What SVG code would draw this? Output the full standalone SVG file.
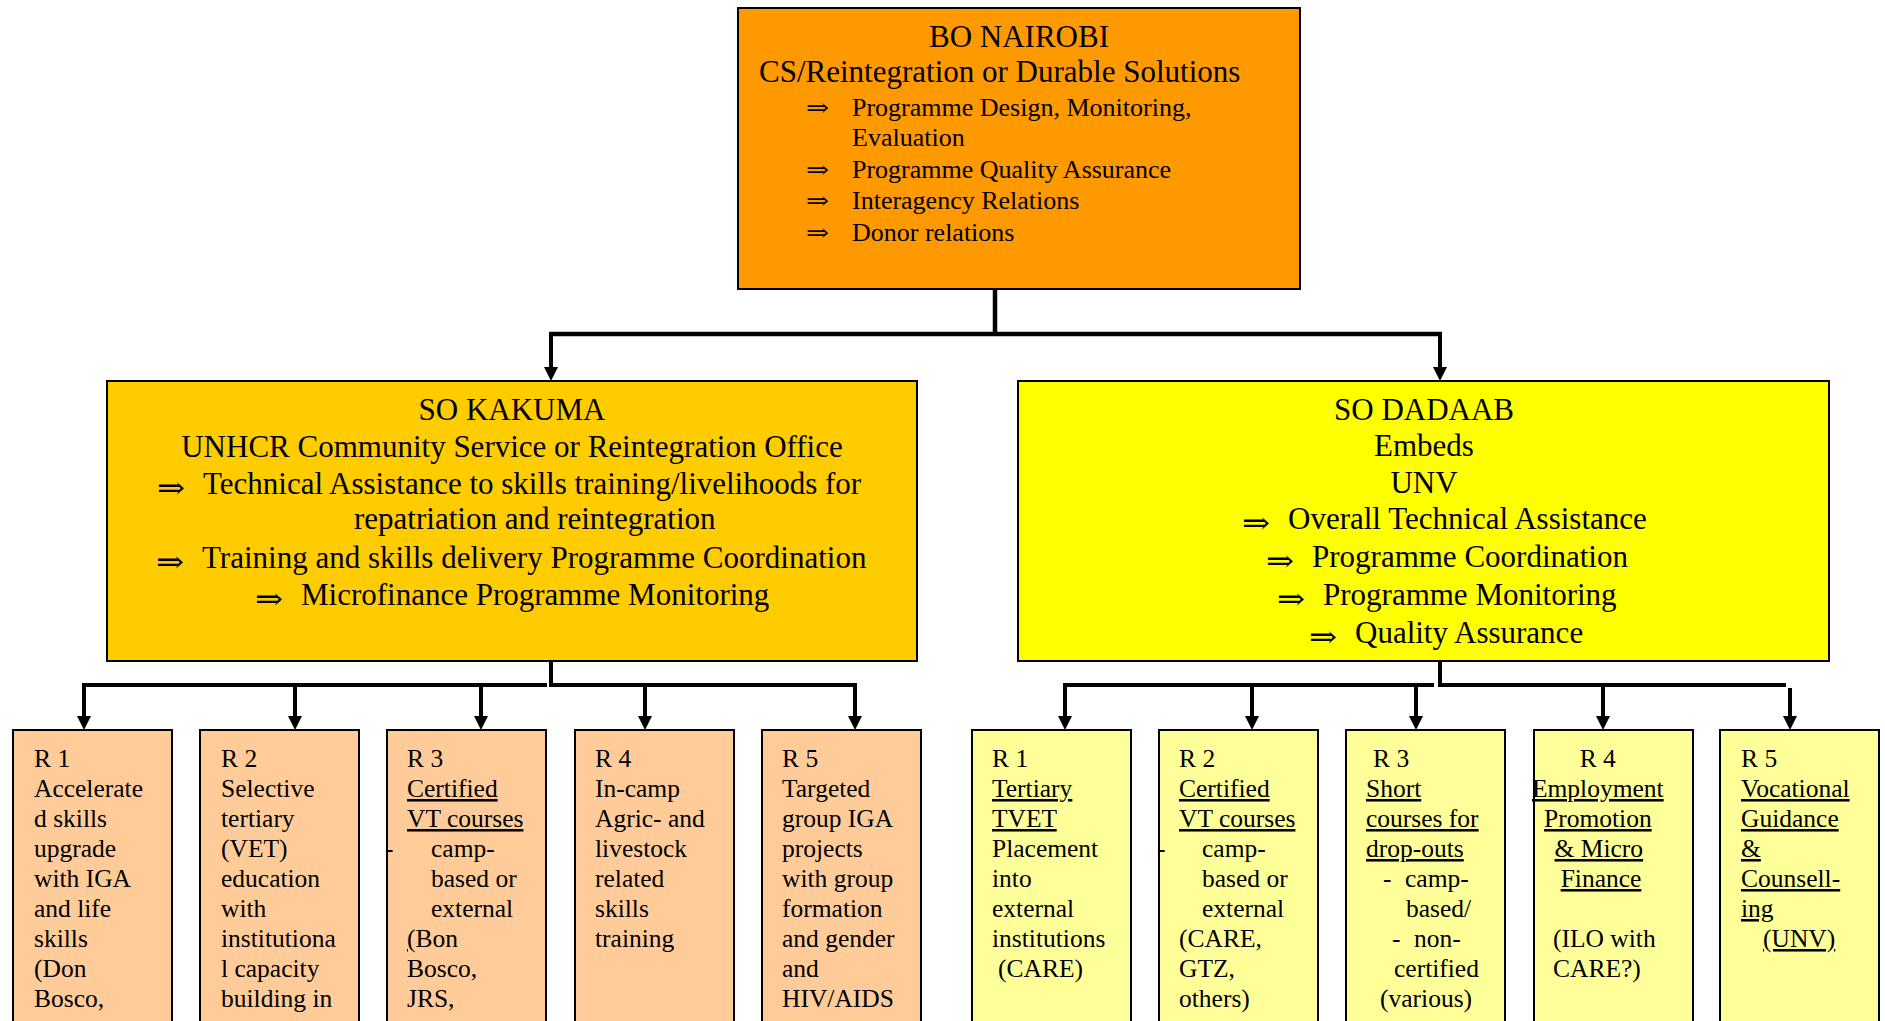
<svg xmlns="http://www.w3.org/2000/svg" width="1885" height="1021" viewBox="0 0 1885 1021">
<style>
.box{stroke:#000;stroke-width:2}
.t{font-family:"Liberation Serif","Times New Roman",serif;fill:#000}
.h{font-size:31px}
.b{font-size:26px}
.s{font-size:25.5px}
.arr{font-family:"DejaVu Serif","DejaVu Sans",serif;fill:#000}
.a1{font-size:24px}
.a2{font-size:30px}
.u{text-decoration:underline}
.c{fill:none;stroke:#000;stroke-width:4}
.bar{fill:none;stroke:#000;stroke-width:4.5}
</style>
<defs>
<marker id="ah" viewBox="0 0 14 14" refX="0" refY="7" markerWidth="14" markerHeight="14" markerUnits="userSpaceOnUse" orient="auto">
<path d="M0,0 L14,7 L0,14 z" fill="#000"/>
</marker>
</defs>
<rect width="1885" height="1021" fill="#fff"/>

<g id="connectors">
<path class="bar" d="M995,289 V334 M549,334 H1442"/>
<line class="c" x1="551" y1="334" x2="551" y2="367" marker-end="url(#ah)"/>
<line class="c" x1="1440" y1="334" x2="1440" y2="367" marker-end="url(#ah)"/>
<polyline class="c" points="551,661 551,685 855,685 855,716" marker-end="url(#ah)"/>
<polyline class="c" points="547,685 84,685 84,716" marker-end="url(#ah)"/>
<line class="c" x1="295" y1="685" x2="295" y2="716" marker-end="url(#ah)"/>
<line class="c" x1="481" y1="685" x2="481" y2="716" marker-end="url(#ah)"/>
<line class="c" x1="645" y1="685" x2="645" y2="716" marker-end="url(#ah)"/>
<polyline class="c" points="1440,661 1440,685 1786,685"/>
<polyline class="c" points="1434,685 1065,685 1065,716" marker-end="url(#ah)"/>
<line class="c" x1="1252" y1="685" x2="1252" y2="716" marker-end="url(#ah)"/>
<line class="c" x1="1416" y1="685" x2="1416" y2="716" marker-end="url(#ah)"/>
<line class="c" x1="1603" y1="685" x2="1603" y2="716" marker-end="url(#ah)"/>
<line class="c" x1="1790" y1="688" x2="1790" y2="716" marker-end="url(#ah)"/>
</g>

<g id="bo-nairobi">
<rect class="box" x="738" y="8" width="562" height="281" fill="#FF9900"/>
<text class="t h" x="1019" y="47" text-anchor="middle">BO NAIROBI</text>
<text class="t h" x="759" y="82">CS/Reintegration or Durable Solutions</text>
<text class="arr a1" x="806" y="116" textLength="23" lengthAdjust="spacingAndGlyphs">⇒</text>
<text class="arr a1" x="806" y="178" textLength="23" lengthAdjust="spacingAndGlyphs">⇒</text>
<text class="arr a1" x="806" y="209" textLength="23" lengthAdjust="spacingAndGlyphs">⇒</text>
<text class="arr a1" x="806" y="241" textLength="23" lengthAdjust="spacingAndGlyphs">⇒</text>
<text class="t b">
<tspan x="852" y="116">Programme Design, Monitoring,</tspan>
<tspan x="852" y="146">Evaluation</tspan>
<tspan x="852" y="178">Programme Quality Assurance</tspan>
<tspan x="852" y="209">Interagency Relations</tspan>
<tspan x="852" y="241">Donor relations</tspan>
</text>
</g>

<g id="so-kakuma">
<rect class="box" x="107" y="381" width="810" height="280" fill="#FFCC00"/>
<text class="t h" x="512" y="420" text-anchor="middle">SO KAKUMA</text>
<text class="t h" x="512" y="457" text-anchor="middle">UNHCR Community Service or Reintegration Office</text>
<text class="arr a2" x="157" y="498" textLength="28" lengthAdjust="spacingAndGlyphs">⇒</text>
<text class="arr a2" x="156" y="572" textLength="28" lengthAdjust="spacingAndGlyphs">⇒</text>
<text class="arr a2" x="255" y="609" textLength="28" lengthAdjust="spacingAndGlyphs">⇒</text>
<text class="t h">
<tspan x="203" y="494">Technical Assistance to skills training/livelihoods for</tspan>
<tspan x="354" y="529">repatriation and reintegration</tspan>
<tspan x="202" y="568">Training and skills delivery Programme Coordination</tspan>
<tspan x="301" y="605">Microfinance Programme Monitoring</tspan>
</text>
</g>

<g id="so-dadaab">
<rect class="box" x="1018" y="381" width="811" height="280" fill="#FFFF00"/>
<text class="t h" x="1424" y="420" text-anchor="middle">SO DADAAB</text>
<text class="t h" x="1424" y="456" text-anchor="middle">Embeds</text>
<text class="t h" x="1424" y="493" text-anchor="middle">UNV</text>
<text class="arr a2" x="1242" y="533" textLength="28" lengthAdjust="spacingAndGlyphs">⇒</text>
<text class="arr a2" x="1266" y="571" textLength="28" lengthAdjust="spacingAndGlyphs">⇒</text>
<text class="arr a2" x="1277" y="609" textLength="28" lengthAdjust="spacingAndGlyphs">⇒</text>
<text class="arr a2" x="1309" y="647" textLength="28" lengthAdjust="spacingAndGlyphs">⇒</text>
<text class="t h">
<tspan x="1288" y="529">Overall Technical Assistance</tspan>
<tspan x="1312" y="567">Programme Coordination</tspan>
<tspan x="1323" y="605">Programme Monitoring</tspan>
<tspan x="1355" y="643">Quality Assurance</tspan>
</text>
</g>

<g id="kakuma-r1">
<rect class="box" x="13" y="730" width="159" height="300" fill="#FFCC99"/>
<text class="t s">
<tspan x="34" y="767">R 1</tspan>
<tspan x="34" y="797">Accelerate</tspan>
<tspan x="34" y="827">d skills</tspan>
<tspan x="34" y="857">upgrade</tspan>
<tspan x="34" y="887">with IGA</tspan>
<tspan x="34" y="917">and life</tspan>
<tspan x="34" y="947">skills</tspan>
<tspan x="34" y="977">(Don</tspan>
<tspan x="34" y="1007">Bosco,</tspan>
</text>
</g>

<g id="kakuma-r2">
<rect class="box" x="200" y="730" width="159" height="300" fill="#FFCC99"/>
<text class="t s">
<tspan x="221" y="767">R 2</tspan>
<tspan x="221" y="797">Selective</tspan>
<tspan x="221" y="827">tertiary</tspan>
<tspan x="221" y="857">(VET)</tspan>
<tspan x="221" y="887">education</tspan>
<tspan x="221" y="917">with</tspan>
<tspan x="221" y="947">institutiona</tspan>
<tspan x="221" y="977">l capacity</tspan>
<tspan x="221" y="1007">building in</tspan>
</text>
</g>

<g id="kakuma-r3">
<rect class="box" x="387" y="730" width="159" height="300" fill="#FFCC99"/>
<text class="t s">
<tspan x="407" y="767">R 3</tspan>
<tspan class="u" x="407" y="797">Certified</tspan>
<tspan class="u" x="407" y="827">VT courses</tspan>
<tspan x="385" y="857">-</tspan><tspan x="431" y="857">camp-</tspan>
<tspan x="431" y="887">based or</tspan>
<tspan x="431" y="917">external</tspan>
<tspan x="407" y="947"><tspan class="u">(</tspan>Bon</tspan>
<tspan x="407" y="977">Bosco,</tspan>
<tspan x="407" y="1007">JRS,</tspan>
</text>
</g>

<g id="kakuma-r4">
<rect class="box" x="575" y="730" width="159" height="300" fill="#FFCC99"/>
<text class="t s">
<tspan x="595" y="767">R 4</tspan>
<tspan x="595" y="797">In-camp</tspan>
<tspan x="595" y="827">Agric- and</tspan>
<tspan x="595" y="857">livestock</tspan>
<tspan x="595" y="887">related</tspan>
<tspan x="595" y="917">skills</tspan>
<tspan x="595" y="947">training</tspan>
</text>
</g>

<g id="kakuma-r5">
<rect class="box" x="762" y="730" width="159" height="300" fill="#FFCC99"/>
<text class="t s">
<tspan x="782" y="767">R 5</tspan>
<tspan x="782" y="797">Targeted</tspan>
<tspan x="782" y="827">group IGA</tspan>
<tspan x="782" y="857">projects</tspan>
<tspan x="782" y="887">with group</tspan>
<tspan x="782" y="917">formation</tspan>
<tspan x="782" y="947">and gender</tspan>
<tspan x="782" y="977">and</tspan>
<tspan x="782" y="1007">HIV/AIDS</tspan>
</text>
</g>

<g id="dadaab-r1">
<rect class="box" x="972" y="730" width="159" height="300" fill="#FFFF99"/>
<text class="t s">
<tspan x="992" y="767">R 1</tspan>
<tspan class="u" x="992" y="797">Tertiary</tspan>
<tspan class="u" x="992" y="827">TVET</tspan>
<tspan x="992" y="857">Placement</tspan>
<tspan x="992" y="887">into</tspan>
<tspan x="992" y="917">external</tspan>
<tspan x="992" y="947">institutions</tspan>
<tspan x="998" y="977">(CARE)</tspan>
</text>
</g>

<g id="dadaab-r2">
<rect class="box" x="1159" y="730" width="159" height="300" fill="#FFFF99"/>
<text class="t s">
<tspan x="1179" y="767">R 2</tspan>
<tspan class="u" x="1179" y="797">Certified</tspan>
<tspan class="u" x="1179" y="827">VT courses</tspan>
<tspan x="1157" y="857">-</tspan><tspan x="1202" y="857">camp-</tspan>
<tspan x="1202" y="887">based or</tspan>
<tspan x="1202" y="917">external</tspan>
<tspan x="1179" y="947">(CARE,</tspan>
<tspan x="1179" y="977">GTZ,</tspan>
<tspan x="1179" y="1007">others)</tspan>
</text>
</g>

<g id="dadaab-r3">
<rect class="box" x="1346" y="730" width="159" height="300" fill="#FFFF99"/>
<text class="t s">
<tspan x="1373" y="767">R 3</tspan>
<tspan class="u" x="1366" y="797">Short</tspan>
<tspan class="u" x="1366" y="827">courses for</tspan>
<tspan class="u" x="1366" y="857">drop-outs</tspan>
<tspan x="1383" y="887">-</tspan><tspan x="1405" y="887">camp-</tspan>
<tspan x="1406" y="917">based/</tspan>
<tspan x="1392" y="947">-</tspan><tspan x="1414" y="947">non-</tspan>
<tspan x="1394" y="977">certified</tspan>
<tspan x="1380" y="1007">(various)</tspan>
</text>
</g>

<g id="dadaab-r4">
<rect class="box" x="1534" y="730" width="159" height="300" fill="#FFFF99"/>
<text class="t s" text-anchor="middle">
<tspan x="1601" y="767">R 4</tspan>
<tspan class="u" x="1601" y="797">Employment</tspan>
<tspan class="u" x="1601" y="827">Promotion</tspan>
<tspan class="u" x="1602" y="857">&amp; Micro</tspan>
<tspan class="u" x="1601" y="887">Finance</tspan>
</text>
<text class="t s">
<tspan x="1553" y="947">(ILO with</tspan>
<tspan x="1553" y="977">CARE?)</tspan>
</text>
</g>

<g id="dadaab-r5">
<rect class="box" x="1720" y="730" width="159" height="300" fill="#FFFF99"/>
<text class="t s">
<tspan x="1741" y="767">R 5</tspan>
<tspan class="u" x="1741" y="797">Vocational</tspan>
<tspan class="u" x="1741" y="827">Guidance</tspan>
<tspan class="u" x="1741" y="857">&amp;</tspan>
<tspan class="u" x="1741" y="887">Counsell-</tspan>
<tspan class="u" x="1741" y="917">ing</tspan>
<tspan class="u" x="1763" y="947">(UNV)</tspan>
</text>
</g>
</svg>
